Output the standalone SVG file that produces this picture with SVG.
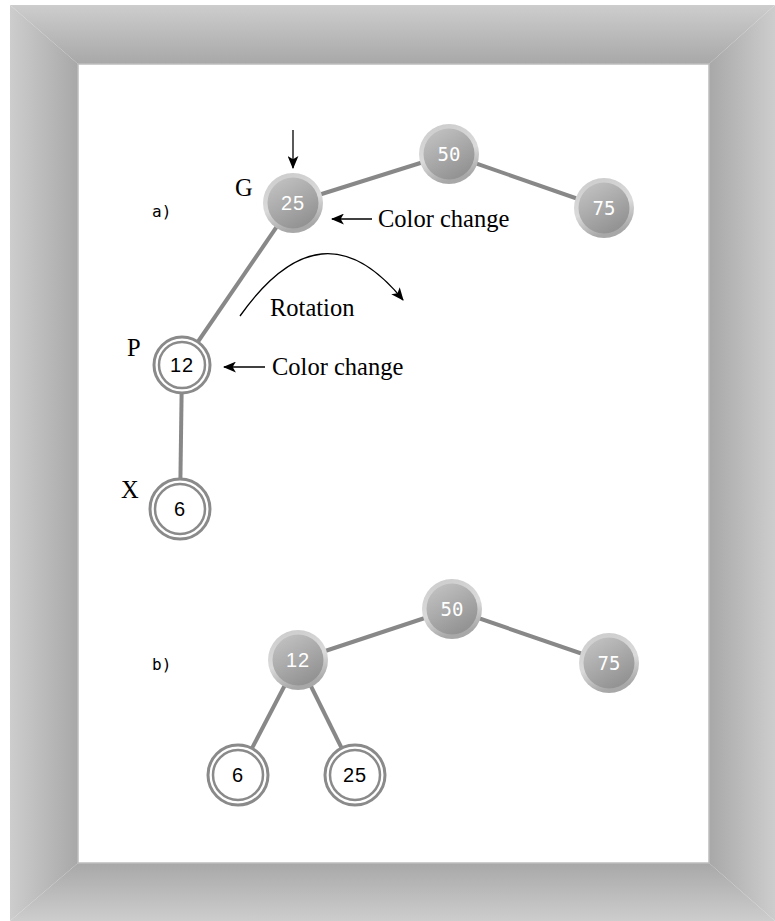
<svg xmlns="http://www.w3.org/2000/svg" width="775" height="921" viewBox="0 0 775 921">
<defs>
<linearGradient id="gl" gradientUnits="userSpaceOnUse" x1="10" y1="0" x2="78" y2="0"><stop offset="0" stop-color="#cdcdcd"/><stop offset="1" stop-color="#a8a8a8"/></linearGradient>
<linearGradient id="gt" gradientUnits="userSpaceOnUse" x1="0" y1="5" x2="0" y2="64"><stop offset="0" stop-color="#cdcdcd"/><stop offset="1" stop-color="#a8a8a8"/></linearGradient>
<linearGradient id="gr" gradientUnits="userSpaceOnUse" x1="709" y1="0" x2="775" y2="0"><stop offset="0" stop-color="#a8a8a8"/><stop offset="1" stop-color="#cdcdcd"/></linearGradient>
<linearGradient id="gb" gradientUnits="userSpaceOnUse" x1="0" y1="863" x2="0" y2="921"><stop offset="0" stop-color="#a8a8a8"/><stop offset="1" stop-color="#cdcdcd"/></linearGradient>
<linearGradient id="ring" x1="0" y1="0" x2="0.3" y2="1"><stop offset="0" stop-color="#cbcbcb"/><stop offset="0.6" stop-color="#dadada"/><stop offset="1" stop-color="#a8a8a8"/></linearGradient>
<linearGradient id="core" x1="0.2" y1="0" x2="0.8" y2="1"><stop offset="0" stop-color="#c2c2c2"/><stop offset="1" stop-color="#8e8e8e"/></linearGradient>
<marker id="ah2" viewBox="0 0 12 10" refX="11" refY="5" markerWidth="13" markerHeight="11" markerUnits="userSpaceOnUse" orient="auto"><path d="M0,0 L12,5 L0,10 L3,5 Z" fill="#000"/></marker>
</defs>
<style>
.edge{stroke:#888;stroke-width:4;fill:none}
.dk .o{fill:url(#ring)}
.dk .i{fill:url(#core)}
.dk text{fill:#fff;font-family:"Liberation Sans",Arial,sans-serif;font-size:20px;letter-spacing:1px;text-anchor:middle}
.dk text.m{font-family:"DejaVu Sans Mono",monospace;font-size:19px;letter-spacing:0}
.rd .o{fill:#fff;stroke:#8a8a8a;stroke-width:3}
.rd .i{fill:#fff;stroke:#8a8a8a;stroke-width:2.5}
.rd text{fill:#000;font-family:"Liberation Sans",Arial,sans-serif;font-size:20px;letter-spacing:1px;text-anchor:middle}
.lab{font-family:"Liberation Serif","Times New Roman",serif;font-size:24.5px;fill:#000}
.sec{font-family:"DejaVu Sans Mono",monospace;font-size:16px;fill:#000}
.arr{stroke:#000;stroke-width:1.3;fill:none}
</style>
<g id="frame">
<polygon points="10,5 78,64 78,863 10,921" fill="url(#gl)"/>
<polygon points="10,5 775,5 709,64 78,64" fill="url(#gt)"/>
<polygon points="775,5 775,921 709,863 709,64" fill="url(#gr)"/>
<polygon points="10,921 78,863 709,863 775,921" fill="url(#gb)"/>
<rect x="78" y="64" width="631" height="799" fill="#fff" stroke="#bdbdbd" stroke-width="1.5"/>
</g>
<g id="connectors">
<line class="edge" x1="293" y1="203" x2="449" y2="154"/>
<line class="edge" x1="449" y1="154" x2="604" y2="208"/>
<line class="edge" x1="293" y1="203" x2="182" y2="365"/>
<line class="edge" x1="182" y1="365" x2="180" y2="509"/>
<line class="edge" x1="298" y1="660" x2="452" y2="609"/>
<line class="edge" x1="452" y1="609" x2="609" y2="663"/>
<line class="edge" x1="298" y1="660" x2="238" y2="775"/>
<line class="edge" x1="298" y1="660" x2="355" y2="775"/>
</g>
<g id="annotations">
<line class="arr" x1="293" y1="130" x2="293" y2="168" marker-end="url(#ah2)"/>
<line class="arr" x1="372" y1="219" x2="332" y2="219" marker-end="url(#ah2)"/>
<line class="arr" x1="265" y1="367" x2="224" y2="367" marker-end="url(#ah2)"/>
<path class="arr" d="M240,316 Q322,200 403,300" marker-end="url(#ah2)"/>
<text class="lab" x="378" y="227">Color change</text>
<text class="lab" x="272" y="375">Color change</text>
<text class="lab" x="270" y="316">Rotation</text>
<text class="lab" x="235" y="196">G</text>
<text class="lab" x="127" y="356">P</text>
<text class="lab" x="121" y="498">X</text>
<text class="sec" x="152" y="217">a)</text>
<text class="sec" x="152" y="670">b)</text>
</g>
<g id="a25" class="dk"><circle class="o" cx="293" cy="203" r="30"/><circle class="i" cx="293" cy="203" r="25.5"/><text x="293" y="210">25</text></g>
<g id="a50" class="dk"><circle class="o" cx="449" cy="154" r="30"/><circle class="i" cx="449" cy="154" r="25.5"/><text class="m" x="449" y="160.5">50</text></g>
<g id="a75" class="dk"><circle class="o" cx="604" cy="208" r="30"/><circle class="i" cx="604" cy="208" r="25.5"/><text class="m" x="604" y="214.5">75</text></g>
<g id="a12" class="rd"><circle class="o" cx="182" cy="365" r="28"/><circle class="i" cx="182" cy="365" r="23"/><text x="182" y="372">12</text></g>
<g id="a6" class="rd"><circle class="o" cx="180" cy="509" r="30"/><circle class="i" cx="180" cy="509" r="25"/><text x="180" y="516">6</text></g>
<g id="b50" class="dk"><circle class="o" cx="452" cy="609" r="30"/><circle class="i" cx="452" cy="609" r="25.5"/><text class="m" x="452" y="615.5">50</text></g>
<g id="b75" class="dk"><circle class="o" cx="609" cy="663" r="30"/><circle class="i" cx="609" cy="663" r="25.5"/><text class="m" x="609" y="669.5">75</text></g>
<g id="b12" class="dk"><circle class="o" cx="298" cy="660" r="30"/><circle class="i" cx="298" cy="660" r="25.5"/><text x="298" y="667">12</text></g>
<g id="b6" class="rd"><circle class="o" cx="238" cy="775" r="30"/><circle class="i" cx="238" cy="775" r="25"/><text x="238" y="782">6</text></g>
<g id="b25" class="rd"><circle class="o" cx="355" cy="775" r="30"/><circle class="i" cx="355" cy="775" r="25"/><text x="355" y="782">25</text></g>
</svg>
